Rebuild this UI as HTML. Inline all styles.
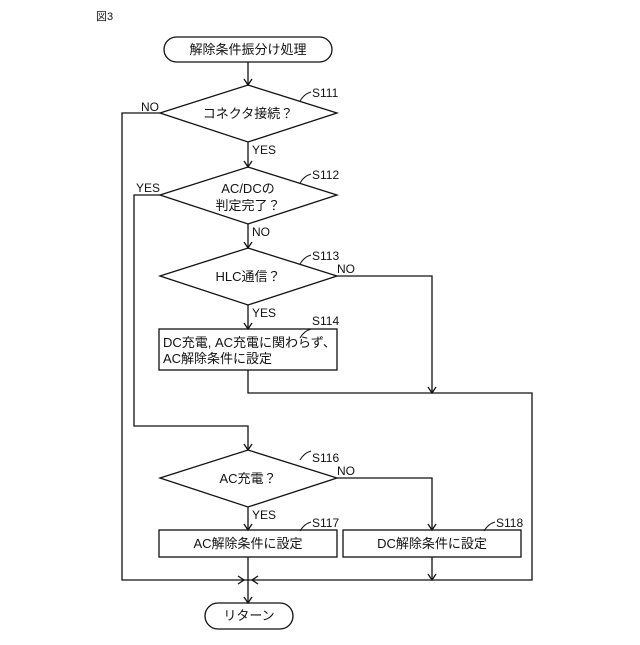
<!DOCTYPE html>
<html><head><meta charset="utf-8"><style>
html,body{margin:0;padding:0;background:#fff;}
svg text{font-family:"Liberation Sans","Noto Sans CJK JP",sans-serif;fill:#111;}
</style></head><body>
<svg width="640" height="640" viewBox="0 0 640 640" xmlns="http://www.w3.org/2000/svg">
<g fill="none" stroke="#111" stroke-width="1.3">
<rect x="164" y="37" width="168" height="25" rx="12.5"/>
<polygon points="160,113 248,85 337,113 248,142"/>
<polygon points="160,195 248,167 337,195 248,224"/>
<polygon points="160,276 248,248 337,276 248,305"/>
<rect x="159" y="329" width="178" height="41"/>
<polygon points="160,478 248,450 337,478 248,507"/>
<rect x="159" y="530" width="178" height="27"/>
<rect x="343" y="530" width="178" height="27"/>
<rect x="205" y="603" width="88" height="26" rx="13"/>
<polyline points="248,62 248,85"/>
<polyline points="248,142 248,167"/>
<polyline points="248,224 248,248"/>
<polyline points="248,305 248,329"/>
<polyline points="160,113 122,113 122,580 532,580 532,393 248,393 248,370"/>
<polyline points="160,195 134,195 134,426 248,426 248,450"/>
<polyline points="337,276 432,276 432,393"/>
<polyline points="248,507 248,530"/>
<polyline points="337,478 432,478 432,530"/>
<polyline points="248,557 248,603"/>
<polyline points="432,557 432,580"/>
<path d="M244,79 L248,85 L252,79 M244,161 L248,167 L252,161 M244,242 L248,248 L252,242 M244,323 L248,329 L252,323 M428,387 L432,393 L436,387 M244,444 L248,450 L252,444 M244,524 L248,530 L252,524 M428,524 L432,530 L436,524 M428,574 L432,580 L436,574 M244,597 L248,603 L252,597 M238,576 L244,580 L238,584 M258,576 L252,580 L258,584"/>
<path d="M300,101 Q304,94 311,92 M300,183 Q304,176 311,174 M300,264 Q304,257 311,255 M300,338 Q304,331 311,329 M300,460 Q304,453 311,451 M300,531 Q304,524 311,522 M484,531 Q488,524 495,522" stroke-width="1"/>
</g>
<g font-size="13">
<text x="96" y="20" font-size="11">図3</text>
<text x="248" y="54" text-anchor="middle">解除条件振分け処理</text>
<text x="248" y="118" text-anchor="middle">コネクタ接続？</text>
<text x="248" y="193" text-anchor="middle">AC/DCの</text>
<text x="248" y="210" text-anchor="middle">判定完了？</text>
<text x="248" y="281" text-anchor="middle">HLC通信？</text>
<text x="163" y="347">DC充電, AC充電に関わらず、</text>
<text x="163" y="363">AC解除条件に設定</text>
<text x="248" y="483" text-anchor="middle">AC充電？</text>
<text x="248" y="548" text-anchor="middle">AC解除条件に設定</text>
<text x="432" y="548" text-anchor="middle">DC解除条件に設定</text>
<text x="249" y="620" text-anchor="middle">リターン</text>
</g>
<g font-size="12">
<text x="312" y="97">S111</text>
<text x="312" y="179">S112</text>
<text x="312" y="260">S113</text>
<text x="312" y="325">S114</text>
<text x="312" y="462">S116</text>
<text x="312" y="527">S117</text>
<text x="496" y="527">S118</text>
<text x="141" y="111">NO</text>
<text x="252" y="154">YES</text>
<text x="136" y="192">YES</text>
<text x="252" y="236">NO</text>
<text x="337" y="273">NO</text>
<text x="252" y="317">YES</text>
<text x="337" y="475">NO</text>
<text x="252" y="519">YES</text>
</g>
</svg>
</body></html>
